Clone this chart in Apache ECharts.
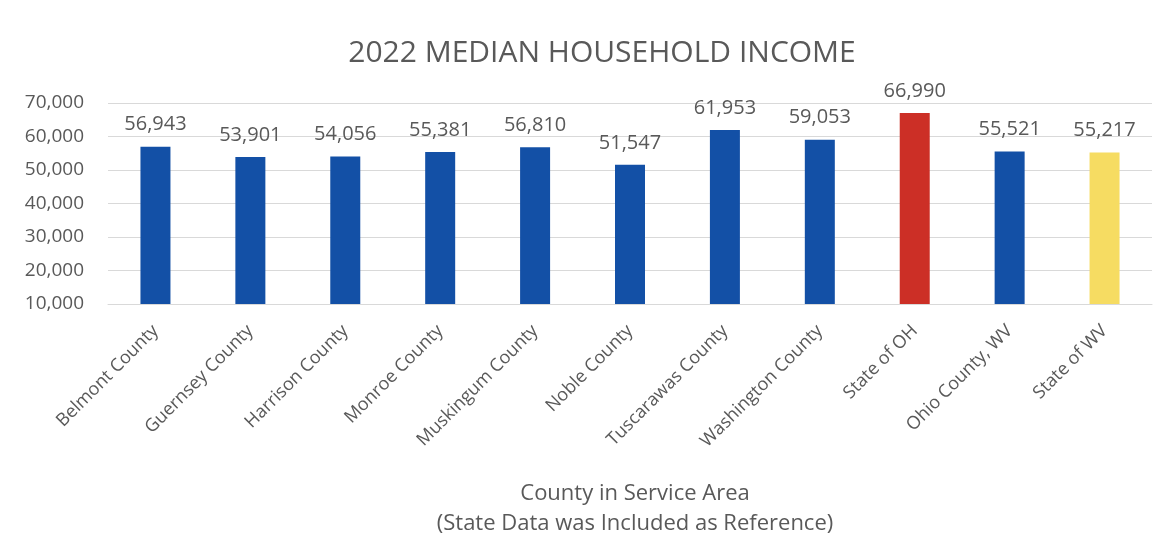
<!DOCTYPE html>
<html>
<head>
<meta charset="utf-8">
<title>2022 Median Household Income</title>
<script src="https://cdn.jsdelivr.net/npm/echarts@6/dist/echarts.min.js"></script>
<style>
  html, body { margin: 0; padding: 0; background: #ffffff; }
  #chart { width: 1172px; height: 560px; }
</style>
</head>
<body>
<div id="chart"></div>
<script>
// Median household income, 2022 (counties in the service area plus state reference values)
const categories = [
  'Belmont County', 'Guernsey County', 'Harrison County', 'Monroe County',
  'Muskingum County', 'Noble County', 'Tuscarawas County', 'Washington County',
  'State of OH', 'Ohio County, WV', 'State of WV'
];
const incomes = [56943, 53901, 54056, 55381, 56810, 51547, 61953, 59053, 66990, 55521, 55217];
const barColors = [
  '#1350a6', '#1350a6', '#1350a6', '#1350a6', '#1350a6', '#1350a6',
  '#1350a6', '#1350a6', '#cc2f26', '#1350a6', '#f6dc62'
];
const yTicks = { min: 10000, max: 70000, interval: 10000 };

const fontFamily = '"Open Sans", "Noto Sans", sans-serif';
const textColor = '#595959';
const fmt = v => Number(v).toLocaleString('en-US');

const chart = echarts.init(document.getElementById('chart'), null, { renderer: 'canvas' });

chart.setOption({
  backgroundColor: '#ffffff',
  animation: false,
  title: [
    {
      text: '2022 MEDIAN HOUSEHOLD INCOME',
      left: 597,
      textAlign: 'center',
      top: 33,
      textStyle: { fontFamily, fontSize: 30, fontWeight: 'normal', color: textColor }
    },
    {
      text: 'County in Service Area\n(State Data was Included as Reference)',
      left: 630,
      textAlign: 'center',
      top: 474,
      textStyle: { fontFamily, fontSize: 22, fontWeight: 'normal', color: textColor, lineHeight: 30 }
    }
  ],
  grid: { left: 108, right: 20, top: 103, bottom: 256, containLabel: false },
  xAxis: {
    type: 'category',
    data: categories,
    axisLine: { show: true, lineStyle: { color: '#d9d9d9', width: 1 } },
    axisTick: { show: false },
    axisLabel: {
      rotate: 45,
      interval: 0,
      margin: 24,
      fontFamily,
      fontSize: 18,
      color: textColor
    }
  },
  yAxis: {
    type: 'value',
    min: yTicks.min,
    max: yTicks.max,
    interval: yTicks.interval,
    axisLine: { show: false },
    axisTick: { show: false },
    splitLine: { lineStyle: { color: '#d9d9d9', width: 1 } },
    axisLabel: {
      margin: 24,
      fontFamily,
      fontSize: 19,
      color: textColor,
      formatter: fmt
    }
  },
  series: [
    {
      type: 'bar',
      data: incomes.map((v, i) => ({ value: v, itemStyle: { color: barColors[i] } })),
      barWidth: 30,
      label: {
        show: true,
        position: 'top',
        distance: 12,
        fontFamily,
        fontSize: 20,
        color: textColor,
        formatter: p => fmt(p.value)
      }
    }
  ]
});
</script>
</body>
</html>
